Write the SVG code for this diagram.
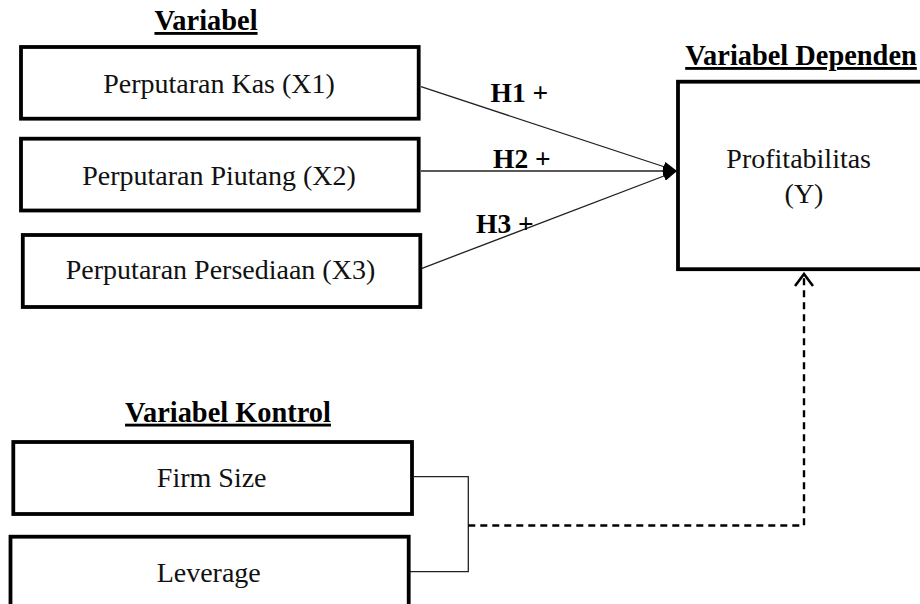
<svg xmlns="http://www.w3.org/2000/svg" width="920" height="604" viewBox="0 0 920 604">
<style>
  .box { fill: #fff; stroke: #000; stroke-width: 3.8; }
  .t { font-family: "Liberation Serif", "Times New Roman", serif; font-size: 28px; fill: #111; text-anchor: middle; }
  .h { font-family: "Liberation Serif", "Times New Roman", serif; font-size: 28.4px; font-weight: bold; fill: #000; text-decoration: underline; text-anchor: middle; }
  .lbl { font-family: "Liberation Serif", "Times New Roman", serif; font-size: 27.5px; font-weight: bold; fill: #000; }
  .conn { fill: none; stroke: #222; stroke-width: 1.3; }
  .dash { fill: none; stroke: #000; stroke-width: 2.4; stroke-dasharray: 7 5; }
</style>
<defs>
  <marker id="tri" viewBox="0 0 14 10" refX="14" refY="5" markerWidth="14" markerHeight="10" markerUnits="userSpaceOnUse" orient="auto">
    <path d="M0,0 L14,5 L0,10 Z" fill="#000"/>
  </marker>
  <marker id="open" viewBox="0 0 20 20" refX="10" refY="2" markerWidth="20" markerHeight="20" markerUnits="userSpaceOnUse" orient="0">
    <path d="M1,14 L10,2 L19,14" fill="none" stroke="#000" stroke-width="2.6"/>
  </marker>
</defs>

<text class="h" x="206" y="30">Variabel</text>
<text class="h" x="801" y="65">Variabel Dependen</text>
<text class="h" x="228" y="421.7">Variabel Kontrol</text>

<g id="connectors">
  <line class="conn" x1="421" y1="86.7" x2="677" y2="171" marker-end="url(#tri)"/>
  <line class="conn" x1="421" y1="171" x2="677" y2="171" marker-end="url(#tri)"/>
  <line class="conn" x1="422" y1="268.3" x2="677" y2="171" marker-end="url(#tri)"/>
  <polyline class="conn" points="414,476.7 468.3,476.7 468.3,571.7 410,571.7"/>
  <polyline class="dash" points="468.3,525.5 804,525.5 804,274" marker-end="url(#open)"/>
  <text class="lbl" x="490.5" y="102">H1 +</text>
  <text class="lbl" x="493" y="168">H2 +</text>
  <text class="lbl" x="476" y="233">H3 +</text>
</g>

<g id="x1">
  <rect class="box" x="21" y="47" width="397.7" height="71.7"/>
  <text class="t" x="219" y="92.7">Perputaran Kas (X1)</text>
</g>
<g id="x2">
  <rect class="box" x="21" y="138.7" width="397.7" height="71.8"/>
  <text class="t" x="219" y="185">Perputaran Piutang (X2)</text>
</g>
<g id="x3">
  <rect class="box" x="22.8" y="235" width="397.5" height="72"/>
  <text class="t" x="220.5" y="279.3">Perputaran Persediaan (X3)</text>
</g>
<g id="y">
  <rect class="box" x="678" y="81.7" width="270" height="187.5"/>
  <text class="t" x="798.7" y="168">Profitabilitas</text>
  <text class="t" x="804" y="203">(Y)</text>
</g>
<g id="firmsize">
  <rect class="box" x="13.3" y="442" width="398.7" height="72"/>
  <text class="t" x="211.7" y="486.7">Firm Size</text>
</g>
<g id="leverage">
  <rect class="box" x="10.5" y="536.7" width="398.2" height="100"/>
  <text class="t" x="208.7" y="581.7">Leverage</text>
</g>
</svg>
